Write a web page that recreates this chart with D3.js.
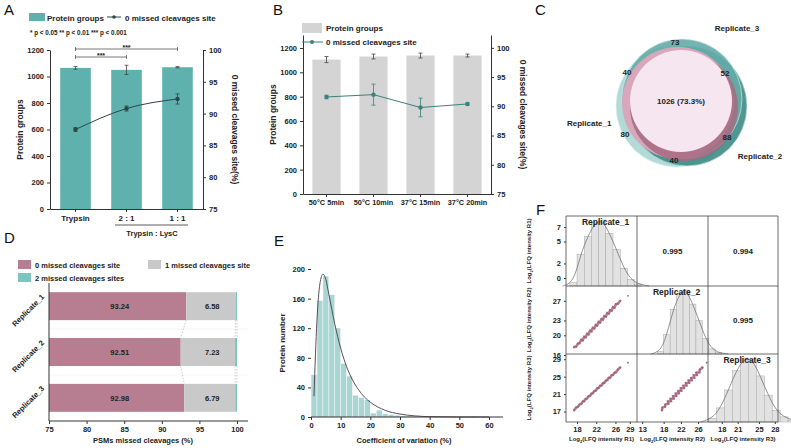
<!DOCTYPE html>
<html><head><meta charset="utf-8">
<script src="https://cdn.jsdelivr.net/npm/d3@7/dist/d3.min.js"></script>
<style>
body{margin:0;background:#fff}
text{font-family:"Liberation Sans",Arial,sans-serif;font-weight:bold;fill:#222}
.pl{font-weight:normal;font-size:15px;fill:#111}
.tick text{font-size:7.5px}
.tick line,.domain{stroke:#333}
</style></head><body>
<svg id="c" width="791" height="448"></svg>
<script>
// ---- data ----
var aCats = ["Trypsin", "2 : 1", "1 : 1"];
var aProt = [1065, 1050, 1070];
var aProtErr = [10, 35, 5];
var aMiss = [87.5, 90.8, 92.3];
var aMissErr = [0.3, 0.4, 0.8];

var bCats = ["50°C 5min", "50°C 10min", "37°C 15min", "37°C 20min"];
var bProt = [1105, 1130, 1138, 1138];
var bProtErr = [25, 20, 20, 12];
var bMiss = [91.6, 92.0, 89.8, 90.4];
var bMissErr = [0.3, 1.8, 1.6, 0.2];

var vennCounts = ["73", "40", "52", "1026 (73.3%)", "80", "88", "40"];
var vennSets = ["Replicate_1", "Replicate_2", "Replicate_3"];

var dReps = ["Replicate_1", "Replicate_2", "Replicate_3"];
var dMiss0 = [93.24, 92.51, 92.98];
var dMiss1 = [6.58, 7.23, 6.79];
var dMiss2 = [0.18, 0.26, 0.23];
var dLegend = ["0 missed cleavages site", "1 missed cleavages site", "2 missed cleavages sites"];

var eBinStart = [0, 2, 4, 6, 8, 10, 12, 14, 16, 18, 20, 22, 24, 26, 28, 30, 32, 34, 36, 50, 54];
var eCounts = [57, 157, 190, 165, 120, 72, 55, 29, 26, 23, 5, 9, 4, 3, 2, 1, 1, 0.5, 0.5, 0.5, 0.5];
var eFitX = [1, 2, 3, 4, 5, 6, 8, 10, 12, 14, 16, 18, 20, 25, 30, 35, 40, 50, 60];
var eFitY = [28, 130, 180, 193, 186, 166, 126, 93, 68, 50, 37, 27, 20, 9, 4, 1.5, 0.5, 0, 0];

var fHist1 = [5, 48, 75, 96, 100, 80, 55, 27, 10, 3];   // R1, bins of 1.5 from 16.5
var fHist2 = [4, 30, 70, 95, 100, 78, 52, 24, 8, 2];    // R2, bins of 1.5 from 16.5
var fHist3 = [6, 22, 50, 80, 100, 98, 72, 42, 18, 8, 3]; // R3, bins of 1.5 from 15.5
var fR1 = [17.4, 17.8, 18.2, 18.5, 18.9, 19.2, 19.5, 19.8, 20.1, 20.4, 20.7, 21.0, 21.3, 21.6, 21.9, 22.2, 22.5, 22.8, 23.1, 23.4, 23.7, 24.0, 24.3, 24.6, 24.9, 25.2, 25.5, 25.8, 26.1, 26.5, 27.0, 28.6];
var fR2 = [17.6, 17.7, 18.3, 18.4, 19.1, 19.0, 19.7, 19.6, 20.3, 20.2, 20.9, 20.8, 21.5, 21.4, 22.1, 22.0, 22.7, 22.6, 23.3, 23.2, 23.9, 23.8, 24.5, 24.4, 25.1, 25.0, 25.7, 25.6, 26.3, 26.4, 27.0, 28.0];
var fR3 = [17.3, 17.9, 18.1, 18.6, 18.8, 19.3, 19.4, 19.9, 20.0, 20.5, 20.6, 21.1, 21.2, 21.7, 21.8, 22.3, 22.4, 22.9, 23.0, 23.5, 23.6, 24.1, 24.2, 24.7, 24.8, 25.3, 25.4, 25.9, 26.0, 26.6, 27.1, 28.2];
var fCorr = [["0.995", 0, 1], ["0.994", 0, 2], ["0.995", 1, 2]];

var svg = d3.select("#c");
var teal = "#5fb1ad", dark = "#2d4848";
var fmt = d3.format("d");

function label(t, x, y) { svg.append("text").attr("class", "pl").attr("x", x).attr("y", y).text(t); }
function txt(g, t, x, y, size, anchor) {
  return g.append("text").attr("x", x).attr("y", y).attr("font-size", size).attr("text-anchor", anchor || "start").text(t);
}
function rot(g, t, x, y, size, deg) {
  return g.append("text").attr("transform", "translate(" + x + "," + y + ") rotate(" + deg + ")")
    .attr("font-size", size).attr("text-anchor", "middle").text(t);
}

// ---- bar+line panel (A and B) ----
function barLine(o) {
  var g = svg.append("g");
  var x = d3.scaleBand().domain(o.cats).range([o.x0, o.x1]).paddingInner(o.pad).paddingOuter(o.pad / 2);
  var y = d3.scaleLinear().domain(o.yd).range([o.yb, o.yt]);
  var y2 = d3.scaleLinear().domain(o.y2d).range([o.yb, o.yt]);
  g.selectAll(".bar").data(o.prot).enter().append("rect")
    .attr("x", (d, i) => x(o.cats[i])).attr("width", x.bandwidth())
    .attr("y", d => y(d)).attr("height", d => o.yb - y(d)).attr("fill", o.barColor);
  o.prot.forEach(function(d, i) {
    var cx = x(o.cats[i]) + x.bandwidth() / 2;
    g.append("path").attr("d", "M" + cx + "," + y(d - o.protErr[i]) + "V" + y(d + o.protErr[i]) +
      "M" + (cx - 2) + "," + y(d - o.protErr[i]) + "h4M" + (cx - 2) + "," + y(d + o.protErr[i]) + "h4")
      .attr("stroke", "#444").attr("stroke-width", 0.8).attr("fill", "none");
  });
  var cxs = o.cats.map(c => x(c) + x.bandwidth() / 2);
  g.append("path").datum(o.miss).attr("fill", "none").attr("stroke", o.lineColor).attr("stroke-width", 1)
    .attr("d", d3.line().x((d, i) => cxs[i]).y(d => y2(d)).curve(o.curve || d3.curveLinear));
  o.miss.forEach(function(d, i) {
    g.append("path").attr("d", "M" + cxs[i] + "," + y2(d - o.missErr[i]) + "V" + y2(d + o.missErr[i]) +
      "M" + (cxs[i] - 2) + "," + y2(d - o.missErr[i]) + "h4M" + (cxs[i] - 2) + "," + y2(d + o.missErr[i]) + "h4")
      .attr("stroke", o.lineColor).attr("stroke-width", 0.8);
    g.append("circle").attr("cx", cxs[i]).attr("cy", y2(d)).attr("r", 2.2).attr("fill", o.lineColor);
  });
  g.append("g").attr("transform", "translate(" + o.x0 + ",0)")
    .call(d3.axisLeft(y).tickValues(d3.range(0, 1201, 200)).tickFormat(fmt).tickSize(3).tickSizeOuter(0));
  g.append("g").attr("transform", "translate(" + o.x1 + ",0)")
    .call(d3.axisRight(y2).tickValues([75, 80, 85, 90, 95, 100]).tickSize(3).tickSizeOuter(0));
  g.append("g").attr("transform", "translate(0," + o.yb + ")")
    .call(d3.axisBottom(x).tickSize(3).tickSizeOuter(0))
    .selectAll("text").style("font-size", o.xfs + "px");
  rot(g, "Protein groups", o.x0 - 27, (o.yb + o.yt) / 2, 8.5, -90);
  rot(g, "0 missed cleavages site(%)", o.x1 + 29, (o.yb + o.yt) / 2, 8.5, 90);
  return { g: g, x: x, cxs: cxs };
}

// Panel A
label("A", 4, 15);
var A = barLine({ cats: aCats, prot: aProt, protErr: aProtErr, miss: aMiss, missErr: aMissErr,
  x0: 50, x1: 203, pad: 0.4, yd: [0, 1200], yb: 209, yt: 50, y2d: [75, 100],
  barColor: teal, lineColor: dark, xfs: 8, curve: d3.curveMonotoneX });
A.g.append("rect").attr("x", 29).attr("y", 13).attr("width", 16).attr("height", 8).attr("fill", teal);
txt(A.g, "Protein groups", 47, 20.5, 8);
A.g.append("line").attr("x1", 107).attr("x2", 121).attr("y1", 17).attr("y2", 17).attr("stroke", dark);
A.g.append("circle").attr("cx", 114).attr("cy", 17).attr("r", 1.8).attr("fill", dark);
txt(A.g, "0 missed cleavages site", 125, 20.5, 8);
txt(A.g, "* p < 0.05  ** p < 0.01  *** p < 0.001", 30, 35, 6.3);
[[0, 2, 49], [0, 1, 57]].forEach(function(b) {
  var xa = A.cxs[b[0]], xb = A.cxs[b[1]];
  A.g.append("path").attr("d", "M" + xa + "," + (b[2] - 2) + "v4M" + xa + "," + b[2] + "H" + xb + "M" + xb + "," + (b[2] - 2) + "v4")
    .attr("stroke", "#555").attr("stroke-width", 0.8);
  txt(A.g, "***", (xa + xb) / 2, b[2] + 1, 7, "middle").attr("font-weight", "normal");
});
A.g.append("line").attr("x1", 115).attr("x2", 188).attr("y1", 225).attr("y2", 225).attr("stroke", "#333").attr("stroke-width", 0.8);
txt(A.g, "Trypsin : LysC", 152, 236, 7.5, "middle");

// Panel B
label("B", 273, 15);
var B = barLine({ cats: bCats, prot: bProt, protErr: bProtErr, miss: bMiss, missErr: bMissErr,
  x0: 303, x1: 491, pad: 0.4, yd: [0, 1307], yb: 194, yt: 35, y2d: [75, 102.2],
  barColor: "#d4d4d4", lineColor: "#3a8379", xfs: 7.3 });
B.g.append("rect").attr("x", 302).attr("y", 23).attr("width", 20).attr("height", 10).attr("fill", "#d4d4d4");
txt(B.g, "Protein groups", 326, 31, 8);
B.g.append("line").attr("x1", 302).attr("x2", 323).attr("y1", 42).attr("y2", 42).attr("stroke", "#3a8379");
B.g.append("circle").attr("cx", 312).attr("cy", 42).attr("r", 2).attr("fill", "#3a8379");
txt(B.g, "0 missed cleavages site", 326, 45, 8);

// Panel C - Venn
label("C", 535, 15);
var gc = svg.append("g");
[[677, 106, 61, "#a9d7d3"], [687, 106, 60, "#3d8c86"], [682, 99, 60, "#64aca7"]].forEach(function(c) {
  gc.append("circle").attr("cx", c[0]).attr("cy", c[1]).attr("r", c[2]).attr("fill", c[3]).attr("fill-opacity", 0.9).attr("stroke", "#dfeeee").attr("stroke-width", 0.6);
});
gc.append("circle").attr("cx", 678).attr("cy", 103).attr("r", 56).attr("fill", "#d8a7bb");
gc.append("circle").attr("cx", 684).attr("cy", 107).attr("r", 54).attr("fill", "#a86a80").attr("fill-opacity", 0.85);
gc.append("circle").attr("cx", 681).attr("cy", 101).attr("r", 51).attr("fill", "#f6e6ef");
var vPos = [[675, 45], [627, 75], [725, 76], [681, 104], [625, 137], [727, 140], [674, 163]];
vennCounts.forEach((t, i) => txt(gc, t, vPos[i][0], vPos[i][1], 8, "middle"));
var sPos = [[567, 126, "start"], [760, 159, "middle"], [737, 31, "middle"]];
vennSets.forEach((t, i) => txt(gc, t, sPos[i][0], sPos[i][1], 8, sPos[i][2]));

// Panel D - stacked bars
label("D", 4, 243);
var gd = svg.append("g");
var dx = d3.scaleLinear().domain([75, 100]).range([49, 237]);
var dy = d3.scaleBand().domain(dReps).range([283, 421]).paddingInner(0.39).paddingOuter(0.2);
var dCols = ["#b77d90", "#c9c9c9", "#7cc4c0"];
dy.domain().forEach(function(r, i) {
  var segs = [[75, dMiss0[i]], [dMiss0[i], dMiss0[i] + dMiss1[i]], [dMiss0[i] + dMiss1[i], 100]];
  segs.forEach(function(s, k) {
    gd.append("rect").attr("x", dx(s[0])).attr("width", dx(s[1]) - dx(s[0]))
      .attr("y", dy(r)).attr("height", dy.bandwidth()).attr("fill", dCols[k]);
  });
  txt(gd, dMiss0[i].toFixed(2), dx(84.4), dy(r) + dy.bandwidth() / 2 + 3, 7.5, "middle");
  txt(gd, dMiss1[i].toFixed(2), dx(96.7), dy(r) + dy.bandwidth() / 2 + 3, 7.5, "middle");
  if (i < 2) {
    var n = dReps[i + 1];
    var ym = (dy(r) + dy.bandwidth() + dy(n)) / 2;
    gd.append("line").attr("x1", 49).attr("x2", 248).attr("y1", ym).attr("y2", ym).attr("stroke", "#eee").attr("stroke-width", 0.6);
    [[dMiss0[i], dMiss0[i + 1]], [dMiss0[i] + dMiss1[i], dMiss0[i + 1] + dMiss1[i + 1]], [100, 100]].forEach(function(p) {
      gd.append("line").attr("x1", dx(p[0])).attr("x2", dx(p[1])).attr("y1", dy(r) + dy.bandwidth()).attr("y2", dy(n))
        .attr("stroke", "#aaa").attr("stroke-width", 0.6).attr("stroke-dasharray", "1.5,1.5");
    });
  }
  rot(gd, r, 30, dy(r) + dy.bandwidth() / 2 + 6, 7.5, -45);
});
gd.append("g").attr("transform", "translate(0,421)").call(d3.axisBottom(dx).tickValues([75, 80, 85, 90, 95, 100]).tickSize(3))
  .select(".domain").attr("d", "M49,0H248");
gd.append("line").attr("x1", 49).attr("x2", 49).attr("y1", 283).attr("y2", 421).attr("stroke", "#333");
txt(gd, "PSMs missed cleavages (%)", 143, 443, 7.5, "middle");
[[18, 260, 0], [148, 260, 1], [18, 273, 2]].forEach(function(l, k) {
  gd.append("rect").attr("x", l[0]).attr("y", l[1]).attr("width", 13).attr("height", 9).attr("fill", dCols[k]);
  txt(gd, dLegend[k], l[0] + 17, l[1] + 8, 7.5);
});

// Panel E - histogram
label("E", 274, 246);
var ge = svg.append("g");
var ex = d3.scaleLinear().domain([0, 60]).range([311, 489]);
var ey = d3.scaleLinear().domain([0, 200]).range([417, 269]);
ge.selectAll(".eb").data(eCounts).enter().append("rect")
  .attr("x", (d, i) => ex(eBinStart[i]) + 0.3).attr("width", ex(2) - ex(0) - 0.6)
  .attr("y", d => ey(d)).attr("height", d => 417 - ey(d)).attr("fill", "#a9d6d3");
ge.append("path").datum(eFitX).attr("fill", "none").attr("stroke", "#4a3a48").attr("stroke-width", 0.9)
  .attr("d", d3.line().x(d => ex(d)).y((d, i) => ey(eFitY[i])).curve(d3.curveMonotoneX));
ge.append("g").attr("transform", "translate(0,417)").call(d3.axisBottom(ex).ticks(6).tickSize(3))
  .select(".domain").attr("d", "M311,0H503");
ge.append("g").attr("transform", "translate(311,0)").call(d3.axisLeft(ey).tickValues(d3.range(0, 201, 40)).tickSize(3))
  .select(".domain").attr("d", "M0,0V-154");
rot(ge, "Protein number", 285, 343, 8, -90);
txt(ge, "Coefficient of variation (%)", 404, 443, 7.5, "middle");

// Panel F - scatter matrix
label("F", 536, 215);
var gf = svg.append("g");
var cols = [566, 637, 708, 778], rows = [216, 286, 354, 422];
var fx = [d3.scaleLinear().domain([15.7, 30.5]).range([566, 637]),
          d3.scaleLinear().domain([11.8, 28.3]).range([637, 708]),
          d3.scaleLinear().domain([15.4, 28.6]).range([708, 778])];
var fy = [d3.scaleLinear().domain([0, 7]).range([278, 227]),
          d3.scaleLinear().domain([16.2, 30]).range([354, 286]),
          d3.scaleLinear().domain([14.6, 30.2]).range([422, 354])];
var fTicksX = [[18, 22, 26, 29], [13, 18, 22, 26], [18, 21, 25, 28]];
var fTicksY = [[0, 2, 5, 7], [16, 20, 23, 27], [17, 21, 25, 29]];
var hists = [[fHist1, 16.5], [fHist2, 16.5], [fHist3, 15.5]];
var series = [fR1, fR2, fR3];
function logTitle(t, k) {
  t.append("tspan").text("Log");
  t.append("tspan").attr("font-size", 4.2).attr("dy", 1.5).text("2");
  t.append("tspan").attr("dy", -1.5).text("(LFQ intensity R" + (k + 1) + ")");
}
for (var k = 0; k < 3; k++) {
  var h = hists[k][0], st = hists[k][1], hb = d3.scaleLinear().domain([0, 100]).range([rows[k + 1], rows[k] + 4]);
  var bx = fx[k];
  h.forEach(function(v, i) {
    gf.append("rect").attr("x", bx(st + i * 1.5)).attr("width", bx(1.5) - bx(0)).attr("y", hb(v))
      .attr("height", rows[k + 1] - hb(v)).attr("fill", "#e2e2e2").attr("stroke", "#999").attr("stroke-width", 0.4);
  });
  var pts = [[st - 1.5, 0]].concat(h.map((v, i) => [st + i * 1.5 + 0.75, v]), [[st + h.length * 1.5 + 1.5, 0]]);
  gf.append("path").datum(pts).attr("fill", "none").attr("stroke", "#666").attr("stroke-width", 0.7)
    .attr("d", d3.line().x(d => bx(d[0])).y(d => hb(d[1])).curve(d3.curveBasis));
  txt(gf, vennSets[k], (cols[k] + cols[k + 1]) / 2 + 4, rows[k] + 9, 8.5, "middle");
  gf.append("g").attr("transform", "translate(0,422)").call(d3.axisBottom(fx[k]).tickValues(fTicksX[k]).tickSize(2).tickSizeOuter(0))
    .select(".domain").remove();
  gf.append("g").attr("transform", "translate(566,0)").call(d3.axisLeft(fy[k]).tickValues(fTicksY[k]).tickFormat(fmt).tickSize(2).tickSizeOuter(0))
    .select(".domain").remove();
  logTitle(gf.append("text").attr("x", (cols[k] + cols[k + 1]) / 2).attr("y", 441).attr("font-size", 6).attr("text-anchor", "middle"), k);
  logTitle(gf.append("text").attr("transform", "translate(531," + ((rows[k] + rows[k + 1]) / 2) + ") rotate(-90)")
    .attr("font-size", 6).attr("text-anchor", "middle"), k);
}
[[0, 1], [0, 2], [1, 2]].forEach(function(p) {
  var xs = series[p[0]], ys = series[p[1]], sx = fx[p[0]], sy = fy[p[1]];
  var cloud = xs.map((v, i) => [sx(v), sy(ys[i])]);
  gf.append("path").datum(cloud.slice(0, -1)).attr("fill", "none").attr("stroke", "#b77d90").attr("stroke-width", 2.6)
    .attr("stroke-linecap", "round").attr("d", d3.line());
  gf.selectAll(null).data(cloud).enter().append("circle").attr("cx", d => d[0]).attr("cy", d => d[1])
    .attr("r", 0.9).attr("fill", "#9c6277");
});
fCorr.forEach(c => txt(gf, c[0], (cols[c[2]] + cols[c[2] + 1]) / 2, (rows[c[1]] + rows[c[1] + 1]) / 2 + 3, 8, "middle"));
cols.forEach(x => gf.append("line").attr("x1", x).attr("x2", x).attr("y1", 216).attr("y2", 422).attr("stroke", "#444").attr("stroke-width", 0.8));
rows.forEach(y => gf.append("line").attr("x1", 566).attr("x2", 778).attr("y1", y).attr("y2", y).attr("stroke", "#444").attr("stroke-width", 0.8));
</script></body></html>
